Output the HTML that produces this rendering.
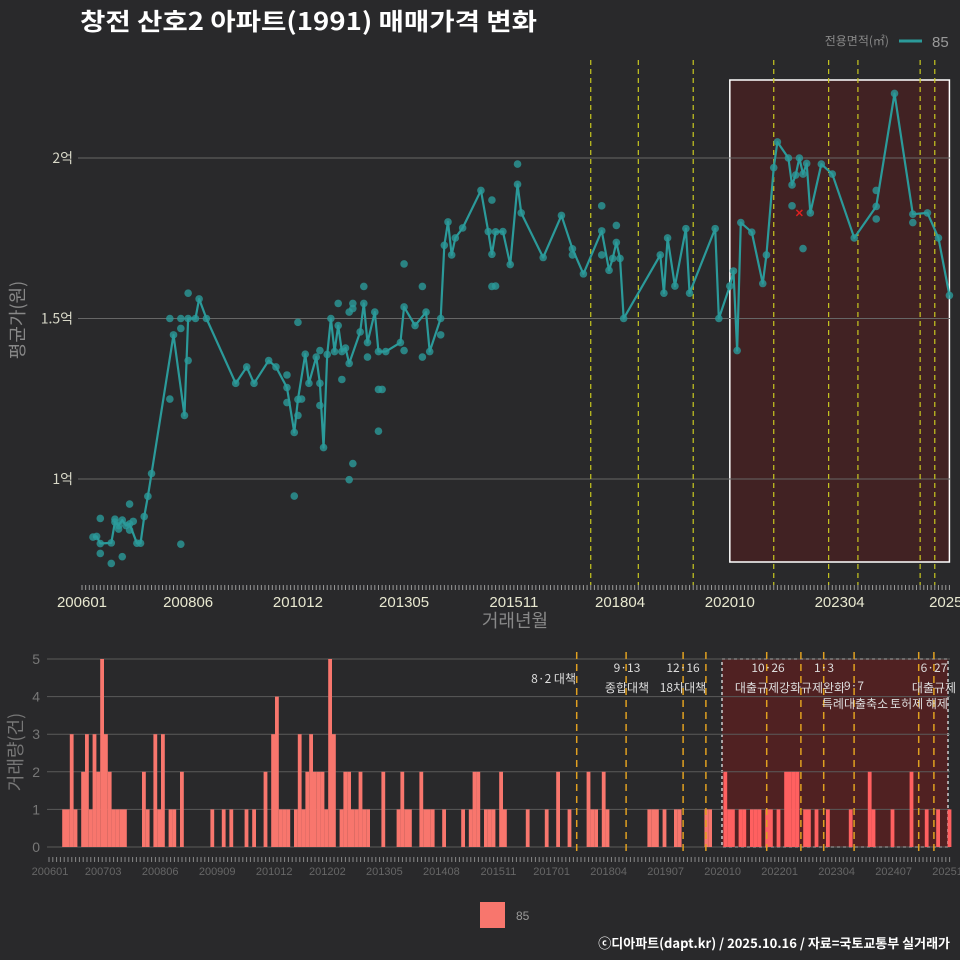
<!DOCTYPE html>
<html><head><meta charset="utf-8">
<style>
html,body{margin:0;padding:0;background:#29292b;}
svg{display:block;font-family:"Liberation Sans","Noto Sans CJK KR",sans-serif;}
</style></head>
<body>
<svg id="chart" width="960" height="960" viewBox="0 0 960 960" xmlns="http://www.w3.org/2000/svg">
<rect x="0" y="0" width="960" height="960" fill="#29292b"/>
<text x="80" y="30" fill="#ffffff" font-size="24" font-weight="bold" textLength="457" lengthAdjust="spacingAndGlyphs" font-family="'Noto Sans CJK KR',sans-serif">창전 산호2 아파트(1991) 매매가격 변화</text>
<g>
<text x="889" y="45" fill="#888" font-size="12" text-anchor="end" font-family="'Noto Sans CJK KR',sans-serif">전용면적(㎡)</text>
<line x1="899" y1="41" x2="922" y2="41" stroke="#2b9a9a" stroke-width="3"/>
<text x="932" y="47" fill="#999" font-size="15">85</text>
</g>
<g id="topg"></g>
<g id="botg"></g>
<g>
<rect x="480" y="902" width="25" height="26" fill="#f8766d"/>
<text x="516" y="920" fill="#999" font-size="12">85</text>
</g>
<text x="950" y="948" fill="#ffffff" font-size="13" font-weight="bold" text-anchor="end" font-family="'Noto Sans CJK KR',sans-serif">ⓒ디아파트(dapt.kr) / 2025.10.16 / 자료=국토교통부 실거래가</text>
</svg>
<script>
// ---- data ----
const lineMonths = [3,4,5,8,9,10,11,12,13,15,16,17,18,19,25,28,29,31,32,34,42,45,47,51,53,56,58,59,61,62,64,65,66,67,68,69,70,71,72,73,76,77,78,80,81,83,87,88,91,94,95,98,99,100,101,102,104,109,111,112,113,115,117,119,120,126,131,134,137,142,144,145,146,147,148,158,159,160,162,165,166,173,174,177,178,179,180,183,186,187,189,190,193,194,195,196,197,198,199,202,205,211,217,222,227,231,234,237];
const lineValues = [0.819,0.821,0.799,0.801,0.866,0.855,0.872,0.855,0.86,0.80,0.80,0.883,0.946,1.017,1.449,1.198,1.50,1.50,1.561,1.50,1.298,1.349,1.298,1.369,1.349,1.285,1.145,1.248,1.389,1.298,1.38,1.298,1.098,1.388,1.50,1.397,1.478,1.397,1.408,1.36,1.458,1.547,1.425,1.52,1.397,1.397,1.425,1.536,1.478,1.52,1.397,1.50,1.728,1.801,1.698,1.751,1.782,1.899,1.771,1.70,1.77,1.771,1.668,1.918,1.829,1.69,1.821,1.717,1.639,1.773,1.65,1.687,1.737,1.687,1.50,1.698,1.579,1.751,1.601,1.78,1.579,1.78,1.50,1.601,1.648,1.40,1.799,1.769,1.609,1.698,1.97,2.05,2.0,1.916,1.947,2.0,1.95,1.983,1.829,1.981,1.95,1.751,1.849,2.201,1.825,1.829,1.751,1.572];
const dotMonths = [5,5,8,11,13,9,10,13,14,27,24,24,27,27,29,29,56,56,59,59,58,60,65,65,70,71,73,74,74,73,74,77,78,81,82,81,88,88,93,93,98,112,112,113,119,142,142,146,134,194,197,217,217,227];
const dotValues = [0.877,0.768,0.737,0.758,0.922,0.875,0.844,0.841,0.868,0.797,1.249,1.5,1.5,1.469,1.369,1.579,1.324,1.238,1.488,1.198,0.947,1.249,1.40,1.229,1.547,1.31,0.998,1.048,1.547,1.52,1.531,1.60,1.38,1.149,1.279,1.279,1.67,1.40,1.60,1.38,1.449,1.869,1.60,1.601,1.981,1.851,1.698,1.79,1.698,1.851,1.718,1.899,1.81,1.799];
const cancelMonths = [196];
const cancelValues = [1.829];
const yTicks = [1, 1.5, 2];
const yTickLabels = ["1억","1.5억","2억"];
const xTickMonths = [0,29,59,88,118,147,177,207,236];
const xTickLabels = ["200601","200806","201012","201305","201511","201804","202010","202304","2025"];
const topPolicyMonths = [139,152,167,189,204,212,229,233];
const volMonths = [4,5,6,7,9,10,11,12,13,14,15,16,17,18,19,20,25,26,28,29,30,32,33,35,43,46,48,52,54,57,59,60,61,62,63,65,66,67,68,69,70,71,72,73,74,75,77,78,79,80,81,82,83,84,88,92,93,94,95,98,99,100,101,104,109,111,112,113,115,116,117,119,120,126,131,134,137,142,143,144,146,147,158,159,160,162,165,166,173,174,178,179,180,182,183,185,186,187,189,190,192,194,195,196,197,199,200,202,205,211,216,217,222,227,231,234,237];
const volCounts = [1,1,3,1,2,3,1,3,2,5,3,2,1,1,1,1,2,1,3,1,3,1,1,2,1,1,1,1,1,2,3,4,1,1,1,1,3,1,2,3,2,2,2,1,5,3,1,2,2,1,1,2,1,1,2,1,2,1,1,2,1,1,1,1,1,1,2,2,1,1,1,2,1,1,1,2,1,2,1,1,2,1,1,1,1,1,1,1,1,1,2,1,1,1,1,1,1,1,1,1,1,2,2,2,2,1,1,1,1,1,2,1,1,2,1,1,1];
const volTicks = [0,1,2,3,4,5];
const bTickMonths = [0,14,29,44,59,73,88,103,118,132,147,162,177,192,207,222,237];
const bTickLabels = ["200601","200703","200806","200909","201012","201202","201305","201408","201511","201701","201804","201907","202010","202201","202304","202407","202510"];
const bottomPolicyMonths = [139,152,167,173,189,198,204,212,229,233];

// ---- scales ----
const X = m => 82 + 3.66*m;
const Y = v => 479 - (v-1)*321;
const XB = m => 47 + 3.8*m;
const YB = c => 847 - c*37.6;
const NS = "http://www.w3.org/2000/svg";
function mk(parent, tag, attrs, text){
  const e = document.createElementNS(NS, tag);
  for (const k in attrs) e.setAttribute(k, attrs[k]);
  if (text !== undefined) e.textContent = text;
  parent.appendChild(e);
  return e;
}
const topG = document.getElementById('topg');
const botG = document.getElementById('botg');

// ---- top chart ----
let r = mk(topG,'rect',{x:X(177),y:80,width:X(237)-X(177),height:482,fill:'#5a1c1c','fill-opacity':0.5,stroke:'#ffffff','stroke-width':1.5});


yTicks.forEach((v,i)=>{
  const g = mk(topG,'line',{x1:78,x2:950,y1:Y(v),y2:Y(v),stroke:'#666','stroke-width':1});
  
  
  const t = mk(topG,'text',{x:73,y:Y(v)+5,fill:'#d8d8c8','font-size':14,'text-anchor':'end','font-family':"'Noto Sans CJK KR',sans-serif"},yTickLabels[i]);
  
  
});
topPolicyMonths.forEach(m=>{
  const l = mk(topG,'line',{x1:X(m),x2:X(m),y1:60,y2:585,stroke:'#c8c820','stroke-width':1.2,'stroke-dasharray':'5,4'});
  
  
});
dotMonths.forEach((m,i)=>{
  const c = mk(topG,'circle',{cx:X(m),cy:Y(dotValues[i]),r:3.8,fill:'#2b9a9a','fill-opacity':0.8});
  
  
});
lineMonths.forEach((m,i)=>{
  const c = mk(topG,'circle',{cx:X(m),cy:Y(lineValues[i]),r:3.8,fill:'#2b9a9a','fill-opacity':0.8});
  
  
});
const pl = mk(topG,'polyline',{points:lineMonths.map((m,i)=>X(m)+','+Y(lineValues[i])).join(' '),fill:'none',stroke:'#2b9a9a','stroke-width':2.2,'stroke-linejoin':'round'});


cancelMonths.forEach((m,i)=>{
  const x=X(m), y=Y(cancelValues[i]);
  const c = mk(topG,'path',{d:`M${x-3},${y-3}L${x+3},${y+3}M${x-3},${y+3}L${x+3},${y-3}`,stroke:'#e02020','stroke-width':1.5});
  
  
});
for(let m=0;m<=237;m++){
  const t = mk(topG,'line',{x1:X(m),x2:X(m),y1:585,y2:590,stroke:'#999','stroke-width':1});
  
  
}
xTickMonths.forEach((m,i)=>{
  const t = mk(topG,'text',{x:X(m),y:607,fill:'#e8e8d0','font-size':15,'text-anchor':'middle'},xTickLabels[i]);
  
  
});
let tt = mk(topG,'text',{x:515,y:627,fill:'#888','font-size':18,'text-anchor':'middle','font-family':"'Noto Sans CJK KR',sans-serif"},'거래년월');


tt = mk(topG,'text',{x:0,y:0,fill:'#888','font-size':18,'text-anchor':'middle',transform:'translate(24,320) rotate(-90)','font-family':"'Noto Sans CJK KR',sans-serif"},'평균가(원)');



// ---- bottom chart ----
r = mk(botG,'rect',{x:722,y:659,width:226,height:188,fill:'#6a1c1c','fill-opacity':0.6,stroke:'#cccccc','stroke-width':1.5,'stroke-dasharray':'3,3'});


volTicks.forEach(c=>{
  const g = mk(botG,'line',{x1:47,x2:950,y1:YB(c),y2:YB(c),stroke:'#5a5a5a','stroke-width':1});
  
  
  const t = mk(botG,'text',{x:40,y:YB(c)+5,fill:'#777','font-size':14,'text-anchor':'end'},String(c));
  
  
});
volMonths.forEach((m,i)=>{
  const b = mk(botG,'rect',{x:XB(m),y:YB(volCounts[i]),width:3.8,height:volCounts[i]*37.6,fill: m>=177 ? '#ff6060' : '#f8766d'});
  
  
});
bottomPolicyMonths.forEach(m=>{
  const l = mk(botG,'line',{x1:XB(m)+1.5,x2:XB(m)+1.5,y1:652,y2:852,stroke:'#e0a020','stroke-width':1.5,'stroke-dasharray':'7,5'});
  
  
});
const pLabels = [[576,683,'end','8·2 대책'],[627,672,'middle','9·13'],[627,692,'middle','종합대책'],[683,672,'middle','12·16'],[683,692,'middle','18차대책'],[768,672,'middle','10·26'],[768,692,'middle','대출규제강화'],[824,672,'middle','1·3'],[823,692,'middle','규제완화'],[854,690,'middle','9·7'],[855,708,'middle','특례대출축소'],[919,708,'middle','토허제 해제'],[934,672,'middle','6·27'],[934,692,'middle','대출규제']];
pLabels.forEach(p=>{
  const t = mk(botG,'text',{x:p[0],y:p[1],fill:'#dddddd','font-size':12,'text-anchor':p[2],'font-family':"'Noto Sans CJK KR',sans-serif"},p[3]);
  
  
});
for(let m=0;m<=237;m++){
  const t = mk(botG,'line',{x1:XB(m)+2,x2:XB(m)+2,y1:857,y2:862,stroke:'#888','stroke-width':1});
  
  
}
bTickMonths.forEach((m,i)=>{
  const t = mk(botG,'text',{x:XB(m)+3,y:875,fill:'#666','font-size':11,'text-anchor':'middle'},bTickLabels[i]);
  
  
});
tt = mk(botG,'text',{x:0,y:0,fill:'#777','font-size':18,'text-anchor':'middle',transform:'translate(22,752) rotate(-90)','font-family':"'Noto Sans CJK KR',sans-serif"},'거래량(건)');


</script>
</body></html>
